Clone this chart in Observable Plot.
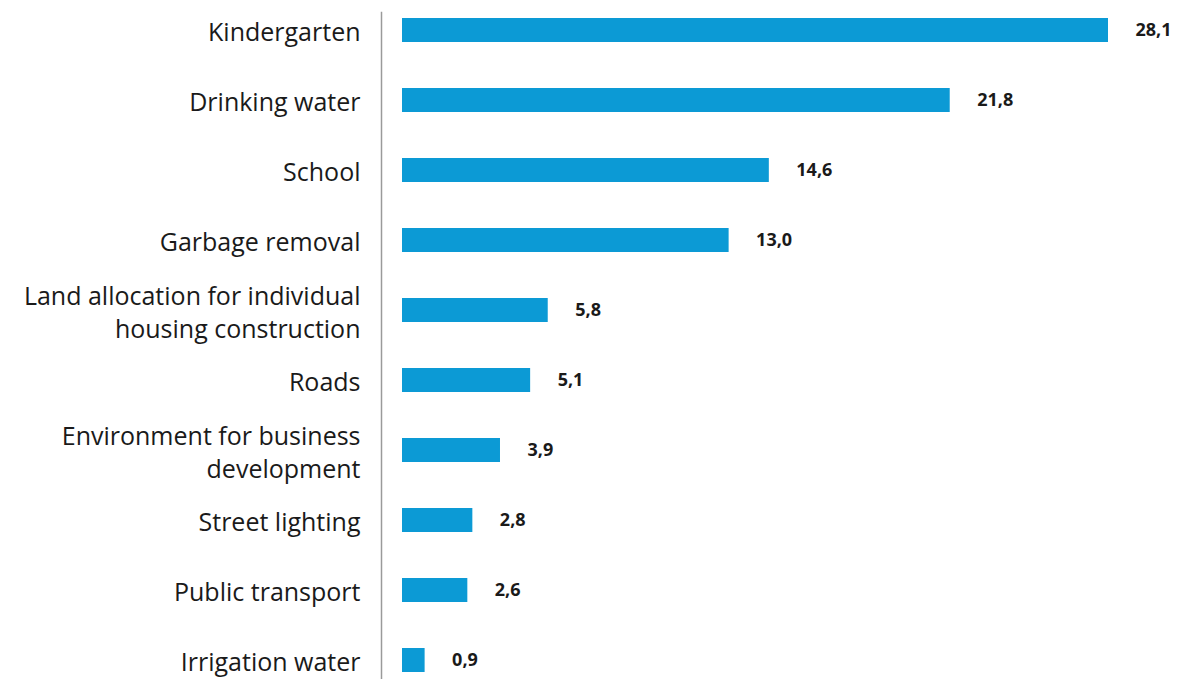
<!DOCTYPE html>
<html>
<head>
<meta charset="utf-8">
<script src="https://cdn.jsdelivr.net/npm/d3@7"></script>
<script src="https://cdn.jsdelivr.net/npm/@observablehq/plot@0.6"></script>
<style>
  html, body { margin: 0; padding: 0; background: #fff; }
  svg { display: block; }
</style>
</head>
<body>
<div id="chart"></div>
<script>
const categories = [
  "Kindergarten",
  "Drinking water",
  "School",
  "Garbage removal",
  "Land allocation for individual\nhousing construction",
  "Roads",
  "Environment for business\ndevelopment",
  "Street lighting",
  "Public transport",
  "Irrigation water"
];
const values = [28.1, 21.8, 14.6, 13.0, 5.8, 5.1, 3.9, 2.8, 2.6, 0.9];
const valueLabels = ["28,1", "21,8", "14,6", "13,0", "5,8", "5,1", "3,9", "2,8", "2,6", "0,9"];

const data = categories.map((c, i) => ({category: c, value: values[i], label: valueLabels[i]}));

const chart = Plot.plot({
  width: 1177,
  height: 679,
  marginTop: 12,
  marginBottom: 0,
  marginLeft: 381,
  marginRight: 69,
  style: {fontFamily: "'Open Sans', sans-serif", background: "#fff"},
  x: {domain: [0, 28.1], insetLeft: 21, axis: null},
  y: {domain: categories, padding: 0.66, paddingOuter: 0, insetTop: 6, insetBottom: 7, label: null},
  marks: [
    Plot.frame({anchor: "left", stroke: "#9a9a9a", strokeWidth: 1.5}),
    Plot.barX(data, {y: "category", x: "value", fill: "#0c9ad5"}),
    Plot.text(data, {
      y: "category", x: "value", text: "label",
      textAnchor: "start", dx: 27, fontSize: 18, fontWeight: "bold", fill: "#1a1a1a"
    }),
    Plot.axisY({
      tickSize: 0, tickPadding: 21, fontSize: 25, lineHeight: 1.32,
      color: "#1a1a1a", label: null
    })
  ]
});
document.getElementById("chart").appendChild(chart);
</script>
</body>
</html>
